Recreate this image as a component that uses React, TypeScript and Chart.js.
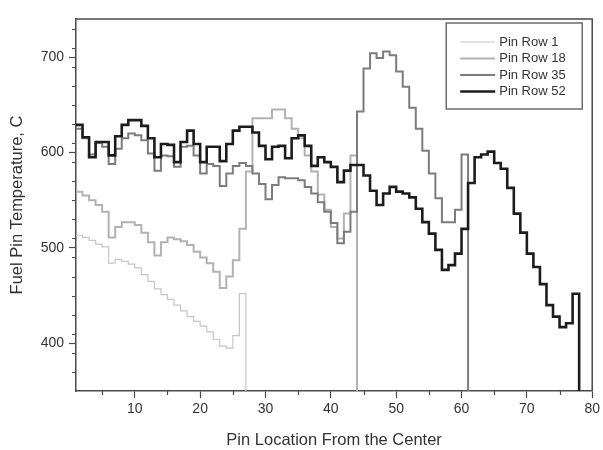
import React, { useEffect, useRef } from 'react';
import { Chart, registerables } from 'chart.js';

Chart.register(...registerables);

// ---- data (temperature of each pin, C) ----
const FIRST_PIN = 1;
const END_VALUE = 0; // the curve drops off after the last pin of a row

const ROW_1 = [
  513, 511, 508, 504, 501, 484, 488, 486, 483, 479,
  472, 465, 457, 451, 446, 440, 434, 428, 423, 418,
  412, 404, 397, 395, 408, 452,
];

const ROW_18 = [
  559, 555, 550, 545, 538, 511, 522, 527, 527, 524,
  516, 506, 492, 506, 511, 509, 507, 503, 496, 490,
  484, 475, 458, 470, 487, 520, 580, 636, 636, 636,
  645, 645, 636, 625, 615, 597, 580, 556, 540, 522,
  510, 536, 597,
];

const ROW_35 = [
  625, 615, 598, 610, 606, 588, 604, 615, 620, 618,
  613, 599, 581, 597, 596, 585, 606, 607, 597, 578,
  588, 586, 565, 578, 586, 589, 586, 578, 567, 551,
  566, 574, 573, 573, 571, 564, 557, 548, 538, 526,
  505, 517, 538, 643, 688, 704, 699, 706, 702, 685,
  669, 647, 625, 602, 578, 552, 527, 527, 540, 598,
];

const ROW_52 = [
  629, 616, 595, 611, 611, 597, 617, 629, 634, 634,
  628, 615, 595, 609, 608, 590, 611, 623, 609, 590,
  606, 606, 591, 609, 623, 627, 627, 621, 607, 593,
  606, 607, 594, 615, 618, 607, 586, 595, 590, 585,
  569, 581, 587, 587, 576, 560, 545, 557, 564, 559,
  557, 553, 541, 527, 515, 498, 477, 482, 494, 520,
  568, 595, 598, 601, 589, 583, 563, 536, 516, 494,
  480, 462, 440, 428, 417, 421, 452,
];

const SERIES_LABELS = ['Pin Row 1', 'Pin Row 18', 'Pin Row 35', 'Pin Row 52'];
const X_TICKS = [10, 20, 30, 40, 50, 60, 70, 80];
const Y_TICKS = [400, 500, 600, 700];
const X_MIN = 1;
const X_MAX = 80;
const Y_MIN = 350;
const Y_MAX = 740;
const X_MINOR_STEP = 5;
const Y_MINOR_STEP = 20;

const X_TITLE = 'Pin Location From the Center';
const Y_TITLE = 'Fuel Pin Temperature, C';

// ---- styles ----
const FONT = '"Liberation Sans", Arial, Helvetica, sans-serif';
const AXIS_COLOR = '#4a4a4a';
const TEXT_COLOR = '#333333';
const STYLES = [
  { color: '#c6c6c6', width: 1.2 },
  { color: '#b2b2b2', width: 2 },
  { color: '#7c7c7c', width: 2 },
  { color: '#1c1c1c', width: 2.6 },
];

function toPoints(values: number[]) {
  const pts = values.map((v, i) => ({ x: FIRST_PIN + i, y: v }));
  pts.push({ x: FIRST_PIN + values.length, y: END_VALUE });
  return pts;
}

const framePlugin = {
  id: 'frameAndMinor',
  afterDraw(chart: any) {
    const { ctx, chartArea } = chart;
    const x = chart.scales.x;
    const y = chart.scales.y;
    ctx.save();
    ctx.strokeStyle = AXIS_COLOR;
    ctx.lineWidth = 1.2;
    ctx.beginPath();
    for (let v = Math.ceil(X_MIN / X_MINOR_STEP) * X_MINOR_STEP; v <= X_MAX; v += X_MINOR_STEP) {
      if (X_TICKS.includes(v)) continue;
      const px = Math.round(x.getPixelForValue(v)) + 0.5;
      ctx.moveTo(px, chartArea.bottom);
      ctx.lineTo(px, chartArea.bottom + 4);
    }
    for (let v = Y_MIN + Y_MINOR_STEP; v <= Y_MAX; v += Y_MINOR_STEP) {
      if (Y_TICKS.includes(v)) continue;
      const py = Math.round(y.getPixelForValue(v)) + 0.5;
      ctx.moveTo(chartArea.left, py);
      ctx.lineTo(chartArea.left - 4, py);
    }
    ctx.stroke();
    // top and right frame
    ctx.lineWidth = 1.5;
    ctx.beginPath();
    ctx.moveTo(chartArea.left, chartArea.top);
    ctx.lineTo(chartArea.right, chartArea.top);
    ctx.lineTo(chartArea.right, chartArea.bottom);
    ctx.stroke();

    // legend box
    const bx = chartArea.right - 146;
    const by = chartArea.top + 4;
    const bw = 136;
    const bh = 86;
    ctx.fillStyle = '#ffffff';
    ctx.fillRect(bx, by, bw, bh);
    ctx.strokeStyle = '#555555';
    ctx.lineWidth = 1.3;
    ctx.strokeRect(bx, by, bw, bh);
    ctx.font = `13px ${FONT}`;
    ctx.textBaseline = 'middle';
    ctx.textAlign = 'left';
    chart.data.datasets.forEach((ds: any, i: number) => {
      const ry = by + 19 + i * 16.5;
      ctx.strokeStyle = ds.borderColor;
      ctx.lineWidth = ds.borderWidth;
      ctx.beginPath();
      ctx.moveTo(bx + 14, ry);
      ctx.lineTo(bx + 49, ry);
      ctx.stroke();
      ctx.fillStyle = TEXT_COLOR;
      ctx.fillText(ds.label, bx + 53, ry);
    });
    ctx.restore();
  },
};

export default function App() {
  const ref = useRef<HTMLCanvasElement | null>(null);

  useEffect(() => {
    document.body.style.margin = '0';
    const canvas = ref.current;
    if (!canvas) return;
    const rows = [ROW_1, ROW_18, ROW_35, ROW_52];
    const chart = new Chart(canvas, {
      type: 'line',
      data: {
        datasets: rows.map((vals, i) => ({
          label: SERIES_LABELS[i],
          data: toPoints(vals),
          borderColor: STYLES[i].color,
          borderWidth: STYLES[i].width,
          stepped: 'before',
          pointRadius: 0,
          fill: false,
          order: rows.length - 1 - i,
        })),
      },
      options: {
        responsive: false,
        animation: false,
        events: [],
        layout: { padding: { left: 0, top: 19, right: 8, bottom: 0 } },
        plugins: { legend: { display: false }, tooltip: { enabled: false } },
        scales: {
          x: {
            type: 'linear',
            min: X_MIN,
            max: X_MAX,
            afterFit: (s: any) => {
              s.height = 59;
            },
            afterBuildTicks: (s: any) => {
              s.ticks = X_TICKS.map((v) => ({ value: v }));
            },
            grid: {
              drawOnChartArea: false,
              tickLength: 7,
              tickColor: AXIS_COLOR,
              tickWidth: 1.2,
            },
            border: { color: AXIS_COLOR, width: 1.5 },
            ticks: {
              color: TEXT_COLOR,
              font: { family: FONT, size: 14 },
              padding: 3,
              maxRotation: 0,
              autoSkip: false,
            },
            title: {
              display: true,
              text: X_TITLE,
              color: TEXT_COLOR,
              font: { family: FONT, size: 16.5 },
              padding: { top: 0, bottom: 0 },
            },
          },
          y: {
            type: 'linear',
            min: Y_MIN,
            max: Y_MAX,
            afterFit: (s: any) => {
              s.width = 76;
            },
            afterBuildTicks: (s: any) => {
              s.ticks = Y_TICKS.map((v) => ({ value: v }));
            },
            grid: {
              drawOnChartArea: false,
              tickLength: 7,
              tickColor: AXIS_COLOR,
              tickWidth: 1.2,
            },
            border: { color: AXIS_COLOR, width: 1.5 },
            ticks: {
              color: TEXT_COLOR,
              font: { family: FONT, size: 14 },
              padding: 5,
              autoSkip: false,
            },
            title: {
              display: true,
              text: Y_TITLE,
              color: TEXT_COLOR,
              font: { family: FONT, size: 16.5 },
              padding: { top: 8, bottom: 0 },
            },
          },
        },
      },
      plugins: [framePlugin],
    });
    return () => chart.destroy();
  }, []);

  return (
    <div style={{ width: 603, height: 450 }}>
      <canvas ref={ref} width={603} height={450} style={{ display: 'block' }} />
    </div>
  );
}
